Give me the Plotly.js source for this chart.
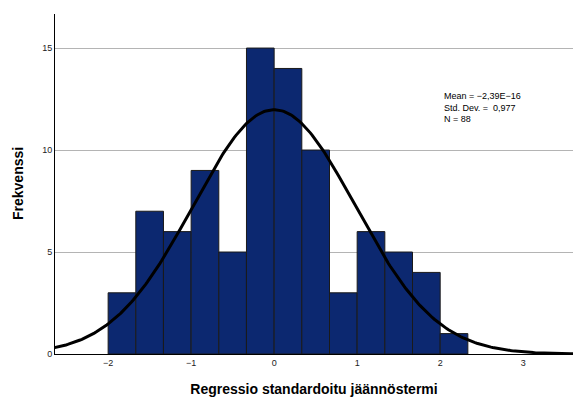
<!DOCTYPE html>
<html>
<head>
<meta charset="utf-8">
<script src="https://cdn.plot.ly/plotly-3.0.1.min.js"></script>
<style>html,body{margin:0;padding:0;background:#fff;}#chart{width:573px;height:397px;}</style>
</head>
<body>
<div id="chart"></div>
<script>
// Histogram bins (left edges, width 1/3) and counts
const binStarts = [-2, -5/3, -4/3, -1, -2/3, -1/3, 0, 1/3, 2/3, 1, 4/3, 5/3, 2];
const counts = [3, 7, 6, 9, 5, 15, 14, 10, 3, 6, 5, 4, 1];
const binWidth = 1/3;
// Summary statistics shown in the chart
const meanVal = -2.39e-16;
const sdVal = 0.977;
const nVal = 88;
const xTicks = [-2, -1, 0, 1, 2, 3];
const yTicks = [0, 5, 10, 15];

const centers = binStarts.map(s => s + binWidth / 2);

// Fitted normal curve as drawn by the statistics package (N * binwidth * normal pdf)
const curveX = [];
const curveY = [];
for (let i = 0; i <= 300; i++) {
  const x = -2.7 + i * (6.4 / 300);
  curveX.push(x);
  const z = (x - meanVal) / sdVal;
  curveY.push(nVal * binWidth * Math.exp(-0.5 * z * z) / (sdVal * Math.sqrt(2 * Math.PI)));
}

const data = [
  {
    type: 'bar', x: centers, y: counts, width: binWidth,
    marker: {color: '#0c2870', line: {color: '#1a1a1a', width: 1}},
    hoverinfo: 'skip'
  },
  {
    type: 'scatter', mode: 'lines', x: curveX, y: curveY,
    line: {color: '#000', width: 3}, hoverinfo: 'skip'
  }
];

const layout = {
  width: 573, height: 397,
  margin: {l: 55, r: 0, t: 14, b: 43},
  paper_bgcolor: '#fff', plot_bgcolor: '#fff',
  showlegend: false,
  font: {family: 'Liberation Sans, Arial, sans-serif', color: '#222'},
  xaxis: {
    range: [-2.64, 3.6], tickvals: xTicks, ticks: '', showgrid: false, zeroline: false,
    showline: true, linecolor: '#000', linewidth: 1,
    tickfont: {size: 9, color: '#222'},
    title: {text: 'Regressio standardoitu jäännöstermi', font: {size: 14, color: '#000', weight: 'bold'}, standoff: 20}
  },
  yaxis: {
    range: [0, 16.67], tickvals: yTicks, ticks: '', showgrid: true, gridcolor: '#b4b4b4', gridwidth: 1,
    zeroline: false, showline: true, linecolor: '#000', linewidth: 1,
    tickfont: {size: 9, color: '#222'}
  },
  annotations: [{
    xref: 'paper', yref: 'paper', x: 0.748, y: 0.78, xanchor: 'left', yanchor: 'top',
    align: 'left', showarrow: false,
    text: 'Mean = \u22122,39E\u221216<br>Std. Dev. =  0,977<br>N = 88',
    font: {size: 9, color: '#000'}
  }, {
    xref: 'paper', yref: 'paper', x: -0.0714, y: 0.5, xanchor: 'center', yanchor: 'middle',
    textangle: -90, showarrow: false, text: 'Frekvenssi',
    font: {size: 14, color: '#000', weight: 'bold'}
  }],
  bargap: 0
};

Plotly.newPlot('chart', data, layout, {displayModeBar: false, staticPlot: true});
</script>
</body>
</html>
